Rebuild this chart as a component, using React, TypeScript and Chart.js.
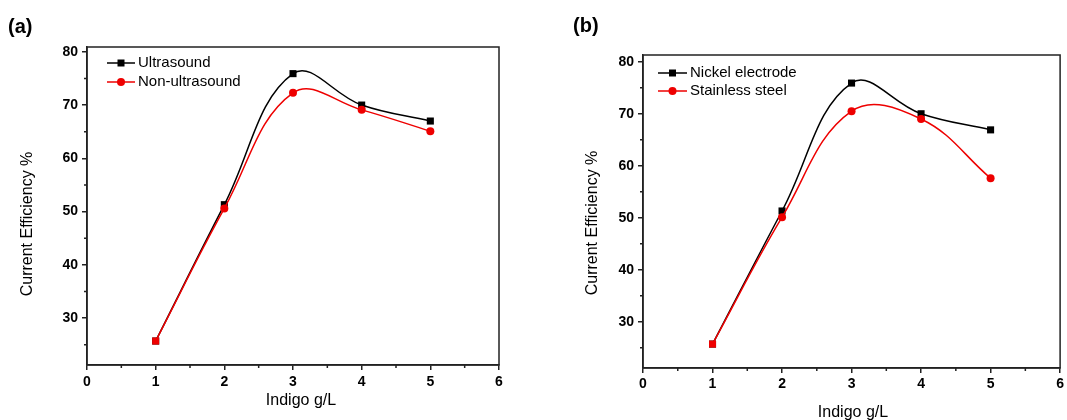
import React, { useEffect, useRef } from 'react';
import { Chart, registerables } from 'chart.js';

Chart.register(...registerables);

// ---- data ----
const indigoValues = [1, 2, 3, 4, 5];
const ultrasound = [25.7, 51.3, 75.9, 70.0, 67.0];
const nonUltrasound = [25.7, 50.6, 72.3, 69.1, 65.1];
const nickelElectrode = [25.7, 51.3, 75.9, 70.0, 66.9];
const stainlessSteel = [25.7, 50.1, 70.5, 69.0, 57.6];

const yTickValues = [30, 40, 50, 60, 70, 80];
const yMinorValues = [25, 35, 45, 55, 65, 75];
const xTickValues = [0, 1, 2, 3, 4, 5, 6];
const xMinorValues = [0.5, 1.5, 2.5, 3.5, 4.5, 5.5];

const xAxisTitle = 'Indigo g/L';
const yAxisTitle = 'Current Efficiency %';

const FONT = '"Liberation Sans", Arial, Helvetica, sans-serif';
const AXIS = '#222';
const RED = '#ee0000';

const framePlugin = {
  id: 'frameMinorLegend',
  afterDraw(chart: any) {
    const { ctx, chartArea } = chart;
    const { left, top, right, bottom } = chartArea;
    const x = chart.scales.x;
    const y = chart.scales.y;
    ctx.save();
    ctx.strokeStyle = AXIS;
    ctx.lineWidth = 1.5;
    ctx.strokeRect(left, top, right - left, bottom - top);
    ctx.beginPath();
    for (const v of xMinorValues) {
      const px = x.getPixelForValue(v);
      ctx.moveTo(px, bottom);
      ctx.lineTo(px, bottom + 3);
    }
    for (const v of yMinorValues) {
      if (v < y.min || v > y.max) continue;
      const py = y.getPixelForValue(v);
      ctx.moveTo(left, py);
      ctx.lineTo(left - 3, py);
    }
    ctx.stroke();

    const lg = chart.options.plugins.insetLegend;
    if (lg) {
      ctx.font = `15px ${FONT}`;
      ctx.textBaseline = 'middle';
      ctx.textAlign = 'left';
      lg.items.forEach((it: any, i: number) => {
        const yy = top + lg.y0 + i * lg.dy;
        const x1 = left + lg.x1;
        const x2 = left + lg.x2;
        ctx.strokeStyle = it.color;
        ctx.lineWidth = 1.5;
        ctx.beginPath();
        ctx.moveTo(x1, yy);
        ctx.lineTo(x2, yy);
        ctx.stroke();
        ctx.fillStyle = it.color;
        const cx = (x1 + x2) / 2;
        if (it.shape === 'rect') {
          ctx.fillRect(cx - 3.5, yy - 3.5, 7, 7);
        } else {
          ctx.beginPath();
          ctx.arc(cx, yy, 4, 0, Math.PI * 2);
          ctx.fill();
        }
        ctx.fillStyle = '#000';
        ctx.fillText(it.label, left + lg.tx, yy);
      });

      // axis titles
      ctx.font = `16px ${FONT}`;
      ctx.fillStyle = '#000';
      ctx.textAlign = 'center';
      ctx.textBaseline = 'alphabetic';
      ctx.fillText(xAxisTitle, lg.xTitle.x, lg.xTitle.y);
      ctx.save();
      ctx.translate(lg.yTitle.x, lg.yTitle.y);
      ctx.rotate(-Math.PI / 2);
      ctx.fillText(yAxisTitle, 0, 0);
      ctx.restore();
    }
    ctx.restore();
  },
};

function makeConfig(p: any) {
  return {
    type: 'line',
    data: {
      datasets: [
        {
          label: p.blackLabel,
          data: indigoValues.map((v, i) => ({ x: v, y: p.black[i] })),
          borderColor: '#000',
          backgroundColor: '#000',
          borderWidth: 1.5,
          pointStyle: 'rect',
          pointRadius: 5,
          pointBorderWidth: 0,
          tension: 0.4,
          order: 2,
        },
        {
          label: p.redLabel,
          data: indigoValues.map((v, i) => ({ x: v, y: p.red[i] })),
          borderColor: RED,
          backgroundColor: RED,
          borderWidth: 1.5,
          pointStyle: ['rect', 'circle', 'circle', 'circle', 'circle'],
          pointRadius: [5, 4, 4, 4, 4],
          pointBorderWidth: 0,
          tension: 0.4,
          order: 1,
        },
      ],
    },
    options: {
      responsive: false,
      animation: false,
      layout: { padding: p.padding },
      plugins: {
        legend: { display: false },
        tooltip: { enabled: false },
        insetLegend: {
          x1: p.legend.x1,
          x2: p.legend.x2,
          tx: p.legend.tx,
          y0: p.legend.y0,
          dy: p.legend.dy,
          xTitle: p.xTitle,
          yTitle: p.yTitle,
          items: [
            { label: p.blackLabel, color: '#000', shape: 'rect' },
            { label: p.redLabel, color: RED, shape: 'circle' },
          ],
        },
      },
      scales: {
        x: {
          type: 'linear',
          min: 0,
          max: 6,
          afterBuildTicks: (s: any) => {
            s.ticks = xTickValues.map((v) => ({ value: v }));
          },
          afterFit: (s: any) => {
            s.height = p.xHeight;
          },
          ticks: {
            color: '#000',
            font: { family: FONT, size: 14, weight: 'bold' },
            padding: p.xTickPad,
            maxRotation: 0,
          },
          grid: { drawOnChartArea: false, drawTicks: true, tickLength: 5, color: AXIS, lineWidth: 1.5 },
          border: { display: true, color: AXIS, width: 1.5 },
          title: { display: false },
        },
        y: {
          type: 'linear',
          min: p.yMin,
          max: p.yMax,
          afterBuildTicks: (s: any) => {
            s.ticks = yTickValues.map((v) => ({ value: v }));
          },
          afterFit: (s: any) => {
            s.width = p.yWidth;
          },
          ticks: {
            color: '#000',
            font: { family: FONT, size: 14, weight: 'bold' },
            padding: 4,
          },
          grid: { drawOnChartArea: false, drawTicks: true, tickLength: 5, color: AXIS, lineWidth: 1.5 },
          border: { display: true, color: AXIS, width: 1.5 },
          title: { display: false },
        },
      },
    },
    plugins: [framePlugin],
  };
}

function Panel(props: any) {
  const ref = useRef<HTMLCanvasElement | null>(null);
  useEffect(() => {
    if (!ref.current) return;
    const chart = new Chart(ref.current, makeConfig(props.cfg) as any);
    return () => chart.destroy();
  }, []);
  return (
    <canvas
      ref={ref}
      width={props.width}
      height={420}
      style={{ position: 'absolute', left: props.left, top: 0, width: props.width, height: 420 }}
    />
  );
}

export default function App() {
  useEffect(() => {
    document.body.style.margin = '0';
  }, []);
  const cfgA = {
    black: ultrasound,
    red: nonUltrasound,
    blackLabel: 'Ultrasound',
    redLabel: 'Non-ultrasound',
    yMin: 21.2,
    yMax: 80.9,
    padding: { left: 0, right: 34, top: 47, bottom: 0 },
    yWidth: 87,
    xHeight: 55,
    xTickPad: 4,
    xTitle: { x: 301, y: 405 },
    yTitle: { x: 32, y: 224 },
    legend: { x1: 20, x2: 48, tx: 51, y0: 16, dy: 19 },
  };
  const cfgB = {
    black: nickelElectrode,
    red: stainlessSteel,
    blackLabel: 'Nickel electrode',
    redLabel: 'Stainless steel',
    yMin: 21.1,
    yMax: 81.3,
    padding: { left: 0, right: 5, top: 55, bottom: 0 },
    yWidth: 90,
    xHeight: 52,
    xTickPad: 3,
    xTitle: { x: 300, y: 417 },
    yTitle: { x: 44, y: 223 },
    legend: { x1: 15, x2: 44, tx: 47, y0: 18, dy: 18 },
  };
  const tag = { position: 'absolute' as const, font: `bold 20px ${FONT}`, lineHeight: '20px', color: '#000' };
  return (
    <div style={{ position: 'relative', width: 1067, height: 420, background: '#fff', overflow: 'hidden' }}>
      <Panel left={0} width={533} cfg={cfgA} />
      <Panel left={553} width={514} cfg={cfgB} />
      <div style={{ ...tag, left: 8, top: 16 }}>(a)</div>
      <div style={{ ...tag, left: 573, top: 15 }}>(b)</div>
    </div>
  );
}
